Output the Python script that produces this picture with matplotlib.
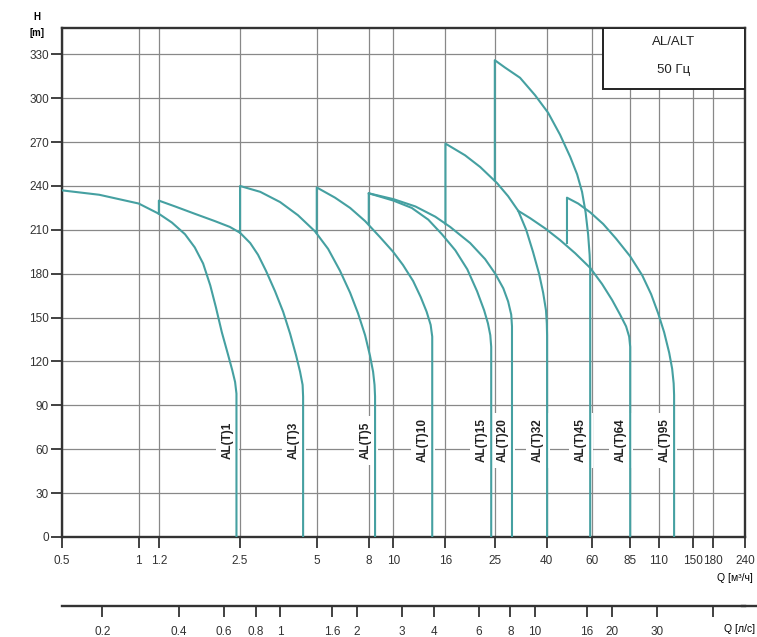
import matplotlib
matplotlib.use("Agg")
import matplotlib.pyplot as plt
from matplotlib.ticker import NullLocator, FixedLocator, FixedFormatter
from matplotlib.lines import Line2D
from matplotlib.patches import Rectangle

plt.rcParams['font.family'] = ['Liberation Sans', 'DejaVu Sans']

# flow ticks, m3/h (main axis) and l/s (second axis)
q_ticks = [0.5, 1, 1.2, 2.5, 5, 8, 10, 16, 25, 40, 60, 85, 110, 150, 180, 240]
q_labels = ['0.5', '1', '1.2', '2.5', '5', '8', '10', '16', '25', '40', '60', '85', '110', '150', '180', '240']
ls_ticks = [0.2, 0.4, 0.6, 0.8, 1, 1.6, 2, 3, 4, 6, 8, 10, 16, 20, 30, 50]
ls_labels = ['0.2', '0.4', '0.6', '0.8', '1', '1.6', '2', '3', '4', '6', '8', '10', '16', '20', '30', '']
h_ticks = [0, 30, 60, 90, 120, 150, 180, 210, 240, 270, 300, 330]

# pump curves: Q [m3/h], H [m]
al1_q = [0.5, 0.7, 1.0, 1.2, 1.35, 1.52, 1.66, 1.79, 1.91, 2.01, 2.12, 2.24, 2.33, 2.39, 2.42, 2.42]
al1_h = [237, 234, 228, 221, 215, 207, 198, 187, 172, 157, 140, 125, 114, 106, 98, 0]

al3_q = [1.2, 1.2, 1.39, 1.66, 1.99, 2.28, 2.5, 2.74, 2.94, 3.16, 3.43, 3.69, 3.93, 4.15, 4.30, 4.40, 4.42, 4.42]
al3_h = [221, 230, 226, 221, 216, 212, 208, 201, 193, 182, 168, 154, 139, 124, 113, 104, 96, 0]

al5_q = [2.5, 2.5, 3.0, 3.59, 4.22, 4.92, 5.54, 6.17, 6.76, 7.26, 7.74, 8.09, 8.32, 8.43, 8.47, 8.47]
al5_h = [208, 240, 236, 229, 220, 209, 197, 182, 167, 153, 138, 124, 113, 104, 96, 0]

al10_q = [5.0, 5.0, 5.9, 6.76, 7.74, 8.86, 9.97, 10.9, 11.95, 12.8, 13.5, 14.0, 14.2, 14.2]
al10_h = [208, 239, 232, 225, 216, 205, 195, 186, 175, 164, 154, 145, 137, 0]

al15_q = [8.0, 8.0, 10.0, 11.8, 13.7, 15.5, 17.5, 19.5, 21.3, 22.7, 23.5, 24.0, 24.2, 24.2]
al15_h = [214, 235, 230, 225, 217, 207, 196, 183, 168, 155, 146, 138, 130, 0]

al20_q = [8.0, 10.0, 12.2, 14.6, 16.7, 20.0, 22.9, 25.1, 27.0, 28.2, 29.0, 29.2, 29.2]
al20_h = [235, 231, 226, 219, 212, 201, 190, 180, 170, 161, 152, 144, 0]

al32_q = [16, 16, 19.1, 21.9, 25.5, 28.2, 30.9, 33.2, 35.3, 37.3, 38.7, 39.7, 40.0, 40.1, 40.1]
al32_h = [214, 269, 261, 253, 242, 233, 223, 210, 195, 180, 167, 155, 146, 138, 0]

al45_q = [25, 25, 27.4, 31.4, 36.0, 40.5, 45.1, 49.4, 52.6, 55.0, 56.8, 58.1, 58.9, 59.2, 59.2]
al45_h = [244, 326, 321, 314, 302, 290, 275, 260, 248, 236, 222, 207, 193, 183, 0]

al64_q = [30.9, 34.4, 39.4, 45.1, 51.7, 59.2, 65.9, 72.2, 77.6, 81.9, 84.2, 85, 85]
al64_h = [223, 218, 211, 203, 194, 184, 173, 162, 152, 144, 137, 130, 0]

al95_q = [48, 48, 53.1, 59.2, 66.6, 74.8, 84.9, 94.7, 102.7, 109.4, 115.5, 120.9, 124.2, 125.9, 126.4, 126.4]
al95_h = [201, 232, 228, 222, 214, 204, 192, 179, 166, 153, 140, 126, 115, 105, 97, 0]

names = ['AL(T)1', 'AL(T)3', 'AL(T)5', 'AL(T)10', 'AL(T)15', 'AL(T)20',
         'AL(T)32', 'AL(T)45', 'AL(T)64', 'AL(T)95']
curves = [(al1_q, al1_h), (al3_q, al3_h), (al5_q, al5_h), (al10_q, al10_h),
          (al15_q, al15_h), (al20_q, al20_h), (al32_q, al32_h),
          (al45_q, al45_h), (al64_q, al64_h), (al95_q, al95_h)]

teal = '#45a0a1'
grid_c = '#888888'
frame_c = '#333333'

fig = plt.figure(figsize=(7.57, 6.37), dpi=100)
ax = fig.add_axes([0.0819, 0.157, 0.9023, 0.799])

ax.set_xscale('log')
ax.set_xlim(0.5, 240)
ax.set_ylim(0, 348)

ax.xaxis.set_major_locator(FixedLocator(q_ticks))
ax.xaxis.set_major_formatter(FixedFormatter(q_labels))
ax.xaxis.set_minor_locator(NullLocator())
ax.set_yticks(h_ticks)
ax.tick_params(axis='both', labelsize=8.5, direction='out', color=frame_c, width=1.3,
               labelcolor='#333333')
ax.tick_params(axis='x', length=8, pad=5)
ax.tick_params(axis='y', length=8, pad=1.5)
ax.grid(True, color=grid_c, linewidth=0.9, zorder=0)
ax.set_axisbelow(True)
for s in ax.spines.values():
    s.set_color(frame_c)
    s.set_linewidth(1.7)

for (q, h) in curves:
    ax.plot(q, h, color=teal, linewidth=1.5, zorder=3, solid_joinstyle='round')

for name, (q, h) in zip(names, curves):
    ax.annotate(name, xy=(q[-1], 66), xytext=(-6.5, 0), textcoords='offset points',
                rotation=90, ha='center', va='center', fontsize=8.5,
                fontweight='bold', color='#222222', zorder=2,
                bbox=dict(boxstyle='square,pad=0.5', fc='white', ec='none'))

# title box
ax.add_patch(Rectangle((0.792, 0.880), 0.208, 0.12, transform=ax.transAxes,
                       fc='white', ec='#222222', lw=1.4, zorder=4))
ax.text(0.896, 0.972, 'AL/ALT', transform=ax.transAxes, ha='center', va='center',
        fontsize=9.5, color='#222222', zorder=5)
ax.text(0.896, 0.917, '50 Гц', transform=ax.transAxes, ha='center', va='center',
        fontsize=9.5, color='#222222', zorder=5)

# axis labels
fig.text(0.049, 0.973, 'H', ha='center', va='center', fontsize=7, fontweight='bold')
fig.text(0.049, 0.948, '[m]', ha='center', va='center', fontsize=7, fontweight='bold')
fig.text(0.994, 0.093, 'Q [м³/ч]', ha='right', va='center', fontsize=7.5)

# second flow axis in l/s
sec = ax.secondary_xaxis(-0.136, functions=(lambda x: x / 3.6, lambda x: x * 3.6))
sec.xaxis.set_major_locator(FixedLocator(ls_ticks))
sec.xaxis.set_major_formatter(FixedFormatter(ls_labels))
sec.xaxis.set_minor_locator(NullLocator())
sec.tick_params(labelsize=8.5, length=8, width=1.3, color=frame_c, pad=6,
                labelcolor='#333333')
sec.spines['bottom'].set_color(frame_c)
sec.spines['bottom'].set_linewidth(1.7)
fig.add_artist(Line2D([0.98, 1.0], [0.0487, 0.0487], color=frame_c, lw=1.7))
fig.text(0.998, 0.013, 'Q [л/с]', ha='right', va='center', fontsize=7.5)

fig.savefig('out.png', dpi=100)
